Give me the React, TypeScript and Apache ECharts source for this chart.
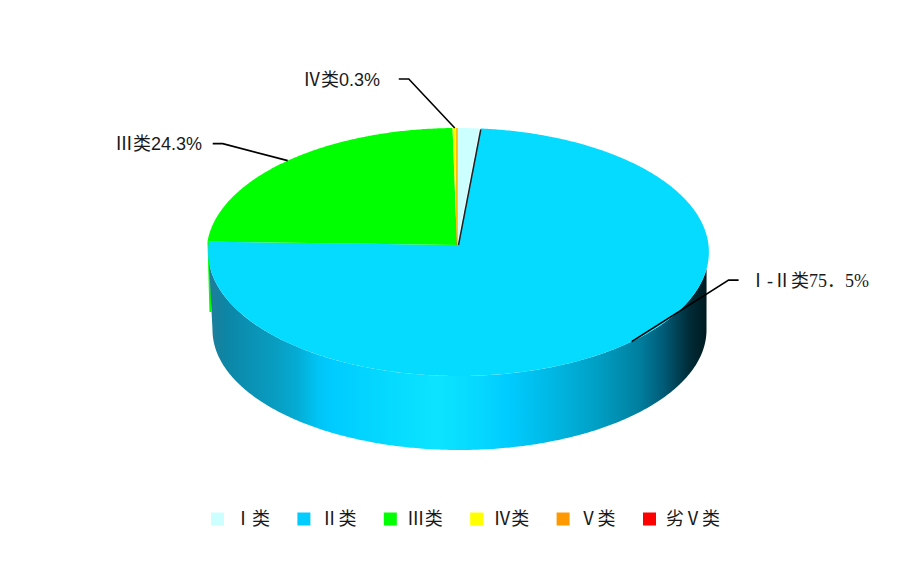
import React, { useEffect, useRef } from "react";
import * as echarts from "echarts";

const categories = ["Ⅰ类", "Ⅱ类", "Ⅲ类", "Ⅳ类", "Ⅴ类", "劣Ⅴ类"];
const values = [1.5, 74.0, 24.3, 0.3, 0, 0];
const legendColors = ["#ccffff", "#00ccff", "#00ff00", "#ffff00", "#ff9900", "#ff0000"];
const faceColors = ["#ccffff", "#05dbff", "#00ff00", "#ffff00", "#ff9900", "#ff0000"];
const labelIII = "Ⅲ类24.3%";
const labelIV = "Ⅳ类0.3%";
const labelII = "Ⅰ-Ⅱ类75．5%";

const CX = 458.5, CY = 245, RX = 250, RY = 123.6, K = 0.0565;
const BCX = 459.5, BCY = 330, BRX = 247, BRY = 120;
const rad = (d: number) => (d * Math.PI) / 180;
const top = (deg: number, dx = 0): number[] => {
  const s = Math.sin(rad(deg)), c = Math.cos(rad(deg));
  const f = 1 / (1 + K * c);
  return [CX + dx + RX * s * f, CY - RY * c * f];
};
const bottom = (deg: number): number[] => [BCX + BRX * Math.sin(rad(deg)), BCY - BRY * Math.cos(rad(deg))];
const total = values.reduce((a, b) => a + b, 0);
const startOf = (i: number) => (values.slice(0, i).reduce((a, b) => a + b, 0) / total) * 360;
const endOf = (i: number) => startOf(i) + (values[i] / total) * 360;
const midOf = (i: number) => (startOf(i) + endOf(i)) / 2;

const range = (a: number, b: number, steps: number) => {
  const out: number[] = [];
  for (let i = 0; i <= steps; i++) out.push(a + ((b - a) * i) / steps);
  return out;
};

const serifFont = "'Liberation Serif','Noto Sans CJK SC',serif";
const sansFont = "'Liberation Sans','Noto Sans CJK SC',sans-serif";
const ink = "#1a1a1a";

const leader = (pts: number[][]) => ({
  type: "polyline",
  shape: { points: pts },
  style: { stroke: "#000", lineWidth: 1.6, fill: "none" },
  z2: 30,
  silent: true,
});
const label = (text: string, x: number, y: number, align: string, font: string) => ({
  type: "text",
  x,
  y,
  style: { text, fill: ink, font: `18px ${font}`, textAlign: align, textVerticalAlign: "middle" },
  z2: 31,
  silent: true,
});

const renderSlice = (i: number) => () => {
  const a = startOf(i), b = endOf(i);
  const dx = i === 1 ? 0 : -1.5;
  const children: any[] = [];
  if (values[i] === 0) {
    children.push({
      type: "line",
      shape: { x1: CX + dx, y1: CY, x2: top(a, dx)[0], y2: top(a, dx)[1] },
      style: { stroke: faceColors[i], lineWidth: 0.4 },
      z2: 12,
      silent: true,
    });
    return { type: "group", children };
  }
  const rim = range(a, b, Math.max(2, Math.ceil((b - a) * 2))).map((d) => top(d, dx));
  children.push({
    type: "polygon",
    shape: { points: [[CX + dx, CY], ...rim] },
    style: { fill: faceColors[i] },
    z2: 10,
    silent: true,
  });
  if (i === 1) {
    const wallTop = range(101, 262, 240).map((d) => top(d));
    const wallBottom = range(270, 90, 300).map((d) => bottom(d));
    children.push({
      type: "polygon",
      shape: { points: [...wallTop, ...wallBottom] },
      style: {
        fill: new echarts.graphic.LinearGradient(0, 0, 1, 0, [
          { offset: 0, color: "#1f7d99" },
          { offset: 0.036, color: "#0c86a6" },
          { offset: 0.077, color: "#0a90b2" },
          { offset: 0.137, color: "#089ec2" },
          { offset: 0.178, color: "#05acd4" },
          { offset: 0.218, color: "#00c4f4" },
          { offset: 0.25, color: "#00ccff" },
          { offset: 0.38, color: "#06dcff" },
          { offset: 0.46, color: "#0ce4ff" },
          { offset: 0.54, color: "#06d8ff" },
          { offset: 0.6, color: "#00ccff" },
          { offset: 0.7, color: "#00b5e0" },
          { offset: 0.78, color: "#009fc4" },
          { offset: 0.865, color: "#007f9f" },
          { offset: 0.915, color: "#005a75" },
          { offset: 0.965, color: "#002c38" },
          { offset: 1, color: "#001a20" },
        ]),
      },
      z2: 2,
      silent: true,
    });
    children.push({
      type: "line",
      shape: { x1: CX, y1: CY, x2: top(a)[0], y2: top(a)[1] + 1 },
      style: { stroke: "#222", lineWidth: 1.5 },
      z2: 12,
      silent: true,
    });
    const p = top(midOf(1));
    children.push(leader([p, [p[0] + 97, p[1] - 61.5], [p[0] + 107, p[1] - 61.5]]));
    children.push(label(labelII, 749, 281, "left", serifFont));
  }
  if (i === 2) {
    const p = top(a, dx);
    children.push({
      type: "polygon",
      shape: { points: [p, [p[0] + 2, p[1]], [p[0] + 4, 312], [p[0] + 2, 312]] },
      style: { fill: faceColors[i] },
      z2: 1,
      silent: true,
    });
    const m = top(midOf(2), dx);
    children.push(leader([m, [m[0] - 65, m[1] - 17], [m[0] - 75, m[1] - 17]]));
    children.push(label(labelIII, 202, 143.5, "right", sansFont));
  }
  if (i === 3) {
    const m = top(midOf(3), dx);
    children.push(leader([m, [m[0] - 46, 79], [m[0] - 56, 79]]));
    children.push(label(labelIV, 380, 79.5, "right", sansFont));
  }
  return { type: "group", children };
};

export default function App() {
  const ref = useRef<HTMLDivElement>(null);
  useEffect(() => {
    const chart = echarts.init(ref.current!, undefined, { renderer: "svg" });
    chart.setOption({
      animation: false,
      backgroundColor: "#ffffff",
      legend: categories.map((name, i) => ({
        left: 211 + 86.4 * i,
        top: 510,
        padding: 0,
        icon: "rect",
        itemWidth: 13,
        itemHeight: 13,
        selectedMode: false,
        data: [name],
        textStyle: {
          fontFamily: serifFont,
          fontSize: 18,
          color: ink,
          padding: [0, 0, 0, 5],
        },
      })),
      series: categories.map((name, i) => ({
        type: "custom",
        name,
        coordinateSystem: "none",
        silent: true,
        itemStyle: { color: legendColors[i] },
        data: [[values[i]]],
        renderItem: renderSlice(i),
      })),
    });
    return () => chart.dispose();
  }, []);
  return <div ref={ref} style={{ position: "fixed", left: 0, top: 0, width: 914, height: 585 }} />;
}
